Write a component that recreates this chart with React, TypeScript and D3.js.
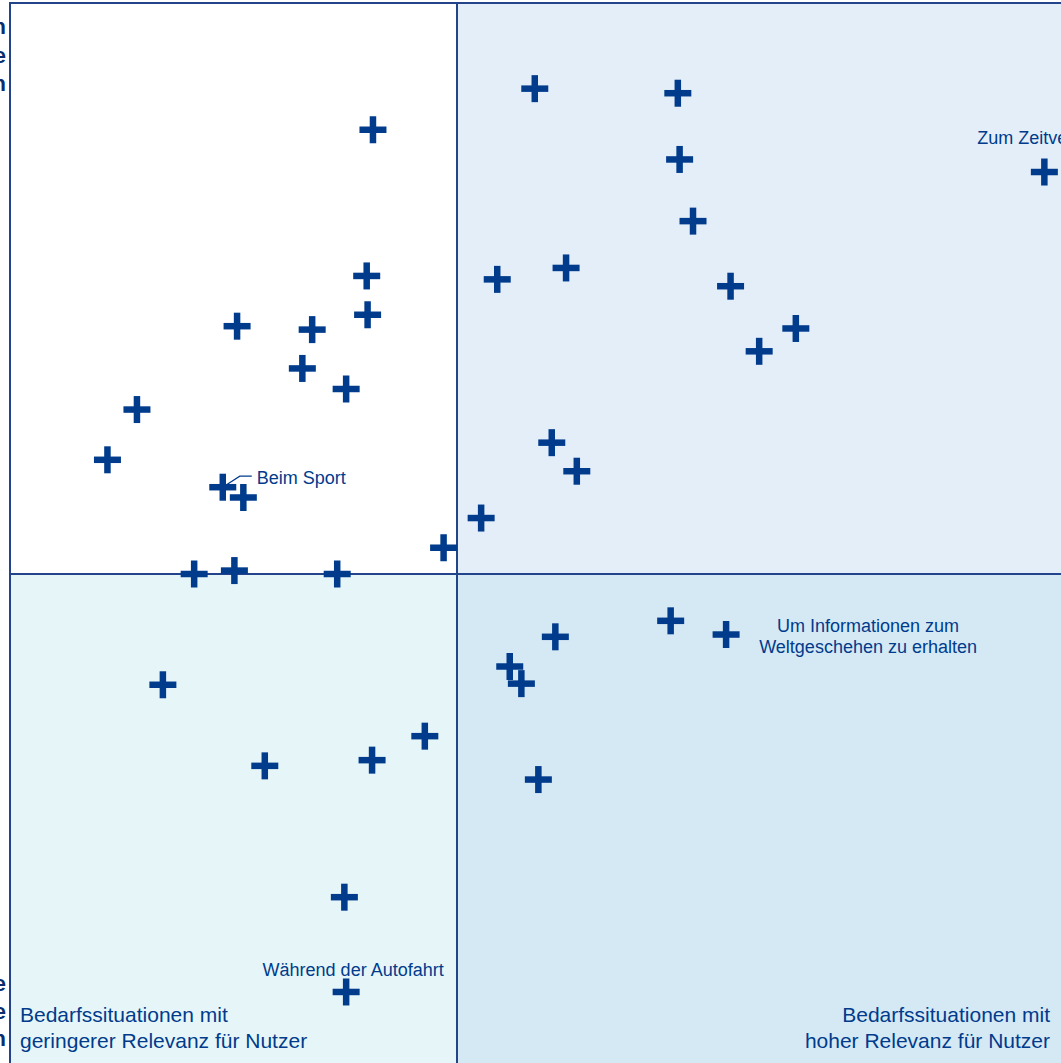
import React from "react";
import * as d3 from "d3";

// Relevance for users (x) vs. second dimension (y); quadrant split at 50/50
const pointX: number[] = [
  40.6, 39.9, 40.0, 25.4, 33.8, 32.7, 37.6, 14.2, 10.9, 23.8, 26.1, 48.5, 20.6, 25.1, 36.6,
  58.7, 74.7, 74.9, 115.7, 76.4, 54.5, 62.2, 80.6, 87.9, 83.8, 60.6, 63.4, 52.7,
  73.9, 80.1, 61.0, 55.9, 57.2, 17.1, 46.4, 40.5, 28.5, 59.1, 37.4, 37.6,
];
const pointY: number[] = [
  88.9, 76.1, 72.7, 71.7, 71.4, 68.0, 66.2, 64.4, 60.0, 57.6, 56.7, 52.3, 50.0, 50.3, 50.0,
  92.5, 92.1, 86.3, 85.2, 80.9, 75.8, 76.8, 75.2, 71.5, 69.5, 61.5, 59.0, 54.9,
  45.9, 44.7, 44.5, 41.9, 40.4, 40.3, 35.8, 33.7, 33.2, 32.0, 21.7, 13.4,
];
const pointLabels: string[][] = [
  [], [], [], [], [], [], [], [], [], ["Beim Sport"], [], [], [], [], [],
  [], [], [], ["Zum Zeitvertreib"], [], [], [], [], [], [], [], [], [],
  [], ["Um Informationen zum", "Weltgeschehen zu erhalten"], [], [], [], [], [], [], [], [], [], ["Während der Autofahrt"],
];
const quadrantLow: string[] = ["Bedarfssituationen mit", "geringerer Relevanz für Nutzer"];
const quadrantHigh: string[] = ["Bedarfssituationen mit", "hoher Relevanz für Nutzer"];
const axisTop: string[] = ["Bedarfssituationen", "mit Relevanz für die", "Werbekunden"];
const axisBottom: string[] = ["Geringe", "Relevanz für die", "Werbekunden"];

const W = 1061;
const H = 1063;
const NAVY = "#003B8C";
const BORDER = "#23438A";
const FONT = "'Liberation Sans', Arial, sans-serif";

export default function App() {
  const x = d3.scaleLinear().domain([0, 100]).range([10, 904]);
  const y = d3.scaleLinear().domain([0, 100]).range([1145, 3]);
  const left = x(0), top = y(100), midX = x(50), midY = y(50), right = x(130), bottom = y(0);
  const arm = 13.5;

  return (
    <svg width={W} height={H} style={{ position: "absolute", left: 0, top: 0, background: "#fff" }} fontFamily={FONT}>
      <rect x={left} y={top} width={midX - left} height={midY - top} fill="#FFFFFF" />
      <rect x={midX} y={top} width={right - midX} height={midY - top} fill="#E4EEF9" />
      <rect x={left} y={midY} width={midX - left} height={bottom - midY} fill="#E6F6F8" />
      <rect x={midX} y={midY} width={right - midX} height={bottom - midY} fill="#D5E9F5" />
      <rect x={left} y={top} width={right - left} height={bottom - top} fill="none" stroke={BORDER} strokeWidth={2} />
      <line x1={midX} x2={midX} y1={top} y2={bottom} stroke={BORDER} strokeWidth={2} />
      <line x1={left} x2={right} y1={midY} y2={midY} stroke={BORDER} strokeWidth={2} />

      {axisTop.map((t, i) => (
        <text key={"at" + i} x={6} y={34 + i * 28.5} textAnchor="end" fontSize={22} fontWeight="bold" fill="#0B2F6E">{t}</text>
      ))}
      {axisBottom.map((t, i) => (
        <text key={"ab" + i} x={6} y={991 + i * 27.5} textAnchor="end" fontSize={22} fontWeight="bold" fill="#0B2F6E">{t}</text>
      ))}

      {quadrantLow.map((t, i) => (
        <text key={"ql" + i} x={20} y={1022 + i * 26} fontSize={21} fill={NAVY}>{t}</text>
      ))}
      {quadrantHigh.map((t, i) => (
        <text key={"qh" + i} x={1050} y={1022 + i * 26} textAnchor="end" fontSize={21} fill={NAVY}>{t}</text>
      ))}

      {pointX.map((vx, i) => {
        const cx = x(vx), cy = y(pointY[i]);
        return (
          <g key={"p" + i}>
            <line x1={cx - arm} x2={cx + arm} y1={cy} y2={cy} stroke={NAVY} strokeWidth={6.5} />
            <line x1={cx} x2={cx} y1={cy - arm} y2={cy + arm} stroke={NAVY} strokeWidth={6.5} />
          </g>
        );
      })}

      {pointX.map((vx, i) => {
        const lab = pointLabels[i];
        if (!lab.length) return null;
        const cx = x(vx), cy = y(pointY[i]);
        if (i === 9) {
          return (
            <g key={"l" + i}>
              <path d={`M${cx + 29},${cy - 11} L${cx + 17},${cy - 11} L${cx + 3},${cy - 2}`} fill="none" stroke={NAVY} strokeWidth={1.2} />
              <text x={cx + 34} y={cy - 3} fontSize={18} fill={NAVY}>{lab[0]}</text>
            </g>
          );
        }
        if (i === 18) {
          return <text key={"l" + i} x={cx - 67} y={cy - 28} fontSize={18} fill={NAVY}>{lab[0]}</text>;
        }
        if (i === 29) {
          return (
            <g key={"l" + i}>
              {lab.map((t, j) => (
                <text key={j} x={cx + 142} y={cy - 3 + j * 21} textAnchor="middle" fontSize={18} fill={NAVY}>{t}</text>
              ))}
            </g>
          );
        }
        return <text key={"l" + i} x={cx + 7} y={cy - 16} textAnchor="middle" fontSize={18} fill={NAVY}>{lab[0]}</text>;
      })}
    </svg>
  );
}
